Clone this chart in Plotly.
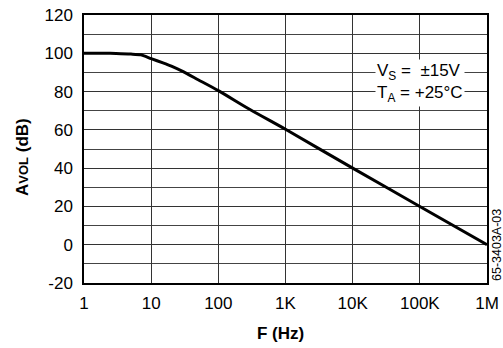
import plotly.graph_objects as go

freq_hz = [1, 2, 3, 5, 7, 10, 15, 20, 30, 50, 100, 300, 1000, 10000, 100000, 1000000]
avol_db = [100, 100, 99.9, 99.6, 99.2, 97.2, 95.0, 93.3, 90.4, 86.2, 80.5, 70.5, 60.3, 40, 20, 0]

x_tickvals = [1, 10, 100, 1000, 10000, 100000, 1000000]
x_ticktext = ["1", "10", "100", "1K", "10K", "100K", "1M"]
y_tickvals = [-20, 0, 20, 40, 60, 80, 100, 120]
y_ticktext = ["-20", "0", "20", "40", "60", "80", "100", "120"]

FONT = "Liberation Sans, Arial, Helvetica, sans-serif"

fig = go.Figure()
fig.add_trace(go.Scatter(x=freq_hz, y=avol_db, mode="lines",
                         line=dict(color="black", width=3, shape="spline", smoothing=0.6),
                         showlegend=False, hoverinfo="skip"))

fig.update_layout(
    width=503, height=348,
    margin=dict(l=84, r=16, t=15, b=65, autoexpand=False),
    paper_bgcolor="white", plot_bgcolor="white",
    font=dict(family=FONT, size=17, color="black"),
    xaxis=dict(type="log", range=[0, 6], tickvals=x_tickvals, ticktext=x_ticktext,
               showgrid=True, gridcolor="#333", gridwidth=1,
               showline=True, linecolor="black", linewidth=1.5, mirror=True,
               ticks="outside", ticklen=4, tickcolor="rgba(0,0,0,0)", zeroline=False,
               automargin=False,
               tickfont=dict(size=17, family=FONT)),
    yaxis=dict(range=[-20, 120], tickvals=y_tickvals, ticktext=y_ticktext,
               showgrid=True, gridcolor="#333", gridwidth=1,
               minor=dict(dtick=10, showgrid=True, gridcolor="#444", gridwidth=1, ticks=""),
               showline=True, linecolor="black", linewidth=1.5, mirror=True,
               ticks="outside", ticklen=6, tickcolor="rgba(0,0,0,0)", zeroline=False,
               automargin=False,
               tickfont=dict(size=17, family=FONT)),
)

# axis titles
fig.add_annotation(xref="paper", yref="paper", x=(280 - 84) / 403, y=-(333 - 283) / 268,
                   xanchor="center", yanchor="middle", showarrow=False,
                   text="<b>F (Hz)</b>", font=dict(size=17, family=FONT, color="black"))
fig.add_annotation(xref="paper", yref="paper", x=-(84 - 22) / 403, y=(283 - 157) / 268,
                   xanchor="center", yanchor="middle", showarrow=False, textangle=-90,
                   text="<b>A<span style='font-size:13px'>VOL</span> (dB)</b>",
                   font=dict(size=17, family=FONT, color="black"))

fig.add_annotation(xref="x", yref="y", x=5.0, y=84.3, xanchor="center", yanchor="middle",
                   text="V<sub>S</sub> =  ±15V<br>T<sub>A</sub> = +25°C",
                   showarrow=False, bgcolor="white", align="left",
                   font=dict(size=17, family=FONT, color="black"), borderpad=1)

fig.add_annotation(xref="paper", yref="paper", x=(497 - 84) / 403, y=0.0,
                   xanchor="center", yanchor="bottom",
                   text="65-3403A-03", textangle=-90, showarrow=False,
                   font=dict(size=12.5, family=FONT, color="black"))

fig.write_html("out.html", post_script="document.body.style.margin='0';",
               config={"displayModeBar": False})
